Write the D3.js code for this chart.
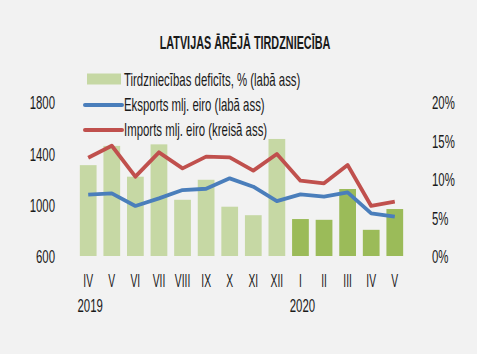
<!DOCTYPE html>
<html>
<head>
<meta charset="utf-8">
<script src="https://cdn.jsdelivr.net/npm/d3@7"></script>
<style>
  body { margin:0; background:#f2f2f2; }
  svg { display:block; }
  text { font-family:"Liberation Sans",Arial,sans-serif; fill:#1a1a1a; }
</style>
</head>
<body>
<svg id="chart" width="477" height="354"></svg>
<script>
// data
const months   = ["IV","V","VI","VII","VIII","IX","X","XI","XII","I","II","III","IV","V"];
const yearOf   = [2019,2019,2019,2019,2019,2019,2019,2019,2019,2020,2020,2020,2020,2020];
const deficit  = [11.8,14.3,10.3,14.5,7.3,9.9,6.4,5.3,15.2,4.8,4.7,8.7,3.4,6.1];
const exportsM = [1078,1088,990,1049,1114,1124,1205,1140,1028,1080,1062,1096,932,906];
const importsM = [1366,1459,1218,1408,1283,1374,1369,1265,1395,1187,1166,1309,990,1023];
const years    = [{label:"2019", at:0},{label:"2020", at:9}];
const leftTicks  = [600,1000,1400,1800];
const rightTicks = [0,5,10,15,20];
const title = "LATVIJAS ĀRĒJĀ TIRDZNIECĪBA";
const legend = ["Tirdzniecības deficīts, % (labā ass)","Eksports mlj. eiro (labā ass)","Imports mlj. eiro (kreisā ass)"];

const colors = {bar2019:"#c6d8a4", bar2020:"#9bbb59", exp:"#4a7ebb", imp:"#c0504d"};
const fs = 19;
const squeeze = 0.6;

const svg = d3.select("#chart");
const idx = d3.range(months.length);

const x = d3.scaleBand().domain(idx).range([73,410]).padding(0.29);
const yL = d3.scaleLinear().domain([600,1800]).range([256,102]);
const yR = d3.scaleLinear().domain([0,20]).range([256,102]);

// squeeze text so it looks like the narrow font of the original
function condense(sel, k){
  sel.each(function(){
    const w = this.getComputedTextLength();
    d3.select(this).attr("textLength", w*k).attr("lengthAdjust","spacingAndGlyphs");
  });
}

// bars
svg.append("g").selectAll("rect")
  .data(idx)
  .join("rect")
  .attr("x", i=>x(i))
  .attr("width", x.bandwidth())
  .attr("y", i=>yR(deficit[i]))
  .attr("height", i=>yR(0)-yR(deficit[i]))
  .attr("fill", i=> yearOf[i]==2019 ? colors.bar2019 : colors.bar2020);

// lines
const cx = i => x(i)+x.bandwidth()/2;
[[exportsM,colors.exp],[importsM,colors.imp]].forEach(([vals,c])=>{
  svg.append("path")
    .datum(idx)
    .attr("fill","none")
    .attr("stroke",c)
    .attr("stroke-width",3.8)
    .attr("stroke-linejoin","round")
    .attr("d", d3.line().x(cx).y(i=>yL(vals[i])));
});

// axes
const left = svg.append("g").attr("transform","translate(55,0)")
  .call(d3.axisLeft(yL).tickValues(leftTicks).tickSize(0).tickPadding(0).tickFormat(d3.format("d")));
const right = svg.append("g").attr("transform","translate(432,0)")
  .call(d3.axisRight(yR).tickValues(rightTicks).tickSize(0).tickPadding(0).tickFormat(d=>d+"%"));
const bottom = svg.append("g").attr("transform","translate(0,287)")
  .call(d3.axisBottom(x).tickSize(0).tickPadding(0).tickFormat(i=>months[i]));
[left,right,bottom].forEach(g=>{
  g.select(".domain").remove();
  g.selectAll("text").attr("font-size",fs).attr("fill","#1a1a1a");
  g.attr("font-family",null).attr("font-size",null);
});
left.selectAll("text").attr("dy","0.36em");
right.selectAll("text").attr("dy","0.36em");
bottom.selectAll("text").attr("y",0).attr("dy",0);
condense(left.selectAll("text"),squeeze);
condense(right.selectAll("text"),squeeze);
condense(bottom.selectAll("text"),0.54);

// years
svg.append("g").selectAll("text")
  .data(years)
  .join("text")
  .attr("x", d=>cx(d.at)+2)
  .attr("y", 312)
  .attr("text-anchor","middle")
  .attr("font-size",fs)
  .text(d=>d.label)
  .call(condense,squeeze);

// title
svg.append("text")
  .attr("x",245).attr("y",49)
  .attr("text-anchor","middle")
  .attr("font-size",19)
  .attr("font-weight","bold")
  .text(title)
  .call(condense,0.57);

// legend
legend.forEach((d,i)=>{
  const g = svg.append("g").attr("transform",`translate(0,${79+i*25})`);
  if(i==0){
    g.append("rect").attr("x",87).attr("y",-5.5).attr("width",34).attr("height",11).attr("fill",colors.bar2019);
  } else {
    g.append("line").attr("x1",85).attr("x2",122).attr("y1",1).attr("y2",1)
      .attr("stroke", i==1?colors.exp:colors.imp).attr("stroke-width",4).attr("stroke-linecap","round");
  }
  g.append("text").attr("x",124).attr("y",0).attr("dy","0.36em")
    .attr("font-size",fs).text(d).call(condense,squeeze);
});
</script>
</body>
</html>
